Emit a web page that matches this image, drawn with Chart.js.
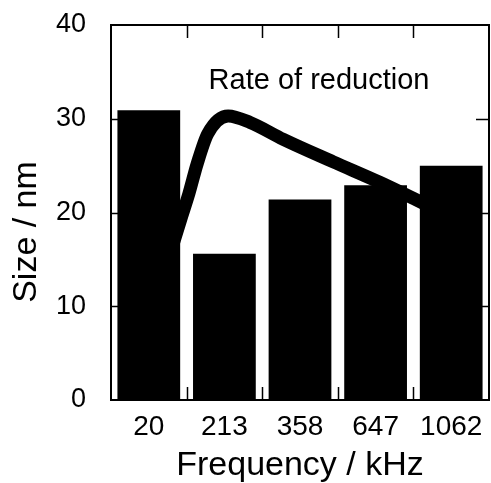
<!DOCTYPE html>
<html>
<head>
<meta charset="utf-8">
<script src="https://cdn.jsdelivr.net/npm/chart.js@4/dist/chart.umd.min.js"></script>
<style>
  html, body { margin: 0; padding: 0; background: #fff; }
  #wrap { width: 491px; height: 483px; }
</style>
</head>
<body>
<div id="wrap"><canvas id="sizeplot" width="491" height="483"></canvas></div>
<script>
// frequency categories and particle size (bars)
const frequencies = ['20', '213', '358', '647', '1062'];
const sizes = [30.9, 15.6, 21.4, 22.9, 25.0];

// rate of reduction curve, x in category units (0..5), y on size axis
const rateX = [0.74, 0.92, 1.03, 1.14, 1.28, 1.55, 1.84, 2.28, 2.94, 3.56, 4.0, 4.2];
const rateY = [14.5, 19.2, 22.0, 25.2, 28.4, 30.3, 29.6, 27.8, 25.4, 23.2, 21.5, 20.7];

const yTicks = [0, 10, 20, 30, 40];

const fontFam = '"Liberation Sans", Arial, Helvetica, sans-serif';

let ratePoints = [];
for (let i = 0; i < rateX.length; i++) {
  ratePoints.push({ x: rateX[i], y: rateY[i] });
}

// frame, inward ticks, and text labels
const framePlugin = {
  id: 'frame',
  afterDraw(chart) {
    const ctx = chart.ctx;
    const a = chart.chartArea;
    const xs = chart.scales.x;
    const ys = chart.scales.y;
    ctx.save();
    ctx.strokeStyle = '#000';
    ctx.lineWidth = 2;
    ctx.strokeRect(a.left, a.top, a.right - a.left, a.bottom - a.top);

    ctx.beginPath();
    const half = (xs.getPixelForValue(1) - xs.getPixelForValue(0)) / 2;
    for (let i = 0; i < frequencies.length - 1; i++) {
      const px = Math.round(xs.getPixelForValue(i) + half) + 0.5;
      ctx.moveTo(px, a.top); ctx.lineTo(px, a.top + 13);
      ctx.moveTo(px, a.bottom); ctx.lineTo(px, a.bottom - 13);
    }
    for (let i = 1; i < yTicks.length - 1; i++) {
      const py = Math.round(ys.getPixelForValue(yTicks[i])) + 0.5;
      ctx.moveTo(a.left, py); ctx.lineTo(a.left + 9, py);
      ctx.moveTo(a.right, py); ctx.lineTo(a.right - 13, py);
    }
    ctx.lineWidth = 1.5;
    ctx.stroke();

    ctx.fillStyle = '#000';
    ctx.font = '29px ' + fontFam;
    ctx.textAlign = 'center';
    ctx.textBaseline = 'middle';
    ctx.fillText('Rate of reduction', 319, 81);

    ctx.font = '34px ' + fontFam;
    ctx.translate(27, 232);
    ctx.rotate(-Math.PI / 2);
    ctx.fillText('Size / nm', 0, 0);
    ctx.restore();
  }
};

const data = {
  labels: frequencies,
  datasets: [
    {
      type: 'line',
      label: 'Rate of reduction',
      data: ratePoints,
      xAxisID: 'xr',
      borderColor: '#000',
      borderWidth: 13,
      pointRadius: 0,
      tension: 0.4,
      cubicInterpolationMode: 'monotone',
      fill: false,
      order: 0
    },
    {
      type: 'bar',
      label: 'Size',
      data: sizes,
      xAxisID: 'x',
      backgroundColor: '#000',
      borderWidth: 0,
      grouped: false,
      categoryPercentage: 1.0,
      barPercentage: 0.83,
      order: 1
    }
  ]
};

const config = {
  type: 'bar',
  data: data,
  options: {
    responsive: false,
    animation: false,
    layout: { padding: { top: 25, right: 2, left: 0, bottom: 0 } },
    plugins: {
      legend: { display: false },
      tooltip: { enabled: false }
    },
    scales: {
      x: {
        type: 'category',
        grid: { display: false },
        border: { display: false },
        ticks: {
          color: '#000',
          padding: 2,
          maxRotation: 0,
          font: { size: 28, family: fontFam }
        },
        title: {
          display: true,
          text: 'Frequency / kHz',
          color: '#000',
          padding: { top: 0, bottom: 0 },
          font: { size: 34, family: fontFam, lineHeight: 1.0 }
        },
        afterFit(scale) { scale.height = 83; }
      },
      xr: {
        type: 'linear',
        display: false,
        min: 0,
        max: 5,
        offset: false
      },
      y: {
        min: 0,
        max: 40,
        grid: { display: false },
        border: { display: false },
        ticks: {
          stepSize: 10,
          color: '#000',
          padding: 17,
          font: { size: 27, family: fontFam }
        },
        afterFit(scale) {
          scale.width = 111;
          scale.paddingTop = 0;
          scale.paddingBottom = 0;
        }
      }
    }
  },
  plugins: [framePlugin]
};

const myChart = new Chart(document.getElementById('sizeplot'), config);
</script>
</body>
</html>
